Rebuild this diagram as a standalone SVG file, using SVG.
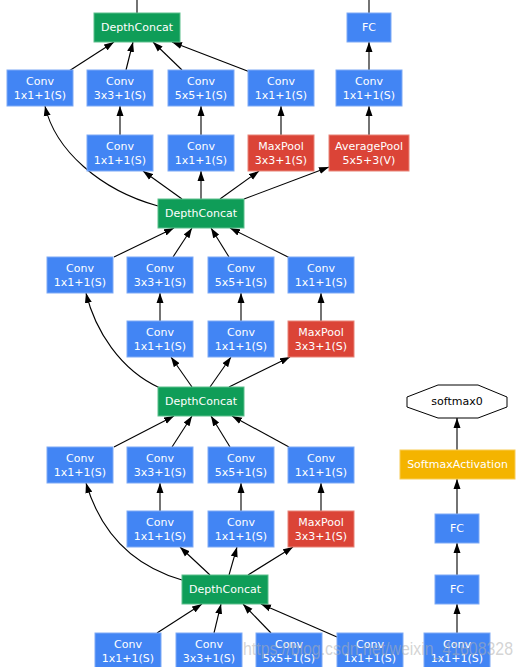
<svg xmlns="http://www.w3.org/2000/svg" width="523" height="667" viewBox="0 0 523 667">
<defs>
<marker id="ah" markerWidth="10" markerHeight="8" refX="10" refY="4" orient="auto" markerUnits="userSpaceOnUse">
<path d="M0,0.5 L10,4 L0,7.5 z" fill="#000"/>
</marker>
<style>
.b{fill:#4285f4;stroke:#7eaaf6;stroke-width:1}
.g{fill:#0f9d58;stroke:#5cbf8c;stroke-width:1}
.r{fill:#db4437;stroke:#e88479;stroke-width:1}
.y{fill:#f4b400;stroke:#f8cc55;stroke-width:1}
text{font-family:"DejaVu Sans",sans-serif;font-size:11px;text-anchor:middle;fill:#fff}
.k{fill:#000}
.e path{fill:none;stroke:#000;stroke-width:1.1}
.e .a{marker-end:url(#ah)}
.wm{font-family:"Liberation Sans",sans-serif;font-size:18px;fill:#b0b0b0;fill-opacity:0.55;text-anchor:start}
</style>
</defs>
<rect width="523" height="667" fill="#fff"/>
<g class="e" id="edges">
<path d="M137,13 L137,0"/>
<path d="M369,13 L369,0"/>
<path class="a" d="M69,71 L114,42"/>
<path class="a" d="M126,70 L133,42"/>
<path class="a" d="M182,70 L153,42"/>
<path class="a" d="M250,72 L172,42"/>
<path class="a" d="M120,135 L120,106"/>
<path class="a" d="M201,135 L201,106"/>
<path class="a" d="M281,135 L281,106"/>
<path class="a" d="M369,135 L369,106"/>
<path class="a" d="M369,70 L369,42"/>
<path class="a" d="M158,206 C100,190 55,150 45,106"/>
<path class="a" d="M182,199 L143,171"/>
<path class="a" d="M201,199 L201,171"/>
<path class="a" d="M220,199 L259,171"/>
<path class="a" d="M244,199 L329,167"/>
<path class="a" d="M114,257 L174,228"/>
<path class="a" d="M173,257 L192,228"/>
<path class="a" d="M229,257 L211,228"/>
<path class="a" d="M290,258 L230,228"/>
<path class="a" d="M160,321 L160,293"/>
<path class="a" d="M241,321 L241,293"/>
<path class="a" d="M321,321 L321,293"/>
<path class="a" d="M160,388 C120,370 95,330 86,293"/>
<path class="a" d="M192,387 L171,357"/>
<path class="a" d="M210,387 L231,357"/>
<path class="a" d="M229,387 L290,357"/>
<path class="a" d="M114,447 L174,416"/>
<path class="a" d="M172,447 L192,416"/>
<path class="a" d="M230,447 L211,416"/>
<path class="a" d="M289,447 L232,416"/>
<path class="a" d="M160,511 L160,483"/>
<path class="a" d="M241,511 L241,483"/>
<path class="a" d="M321,511 L321,483"/>
<path class="a" d="M182,580 C130,565 100,530 86,483"/>
<path class="a" d="M210,575 L180,547"/>
<path class="a" d="M229,575 L237,547"/>
<path class="a" d="M248,575 L293,547"/>
<path class="a" d="M157,633 L202,604"/>
<path class="a" d="M214,633 L221,604"/>
<path class="a" d="M271,633 L243,604"/>
<path class="a" d="M337,637 L261,604"/>
<path class="a" d="M457,450 L457,418"/>
<path class="a" d="M457,514 L457,479"/>
<path class="a" d="M457,575 L457,543"/>
<path class="a" d="M457,633 L457,604"/>
</g>
<g id="dc1"><rect class="g" x="94" y="13" width="86" height="29"/><text x="137" y="31">DepthConcat</text></g>
<g id="fc_top"><rect class="b" x="347" y="13" width="44" height="29"/><text x="369" y="31">FC</text></g>
<g id="a1"><rect class="b" x="7" y="70" width="66" height="36"/><text x="40" y="85">Conv</text><text x="40" y="99">1x1+1(S)</text></g>
<g id="a2"><rect class="b" x="87" y="70" width="66" height="36"/><text x="120" y="85">Conv</text><text x="120" y="99">3x3+1(S)</text></g>
<g id="a3"><rect class="b" x="168" y="70" width="66" height="36"/><text x="201" y="85">Conv</text><text x="201" y="99">5x5+1(S)</text></g>
<g id="a4"><rect class="b" x="248" y="70" width="66" height="36"/><text x="281" y="85">Conv</text><text x="281" y="99">1x1+1(S)</text></g>
<g id="a5"><rect class="b" x="336" y="70" width="66" height="36"/><text x="369" y="85">Conv</text><text x="369" y="99">1x1+1(S)</text></g>
<g id="b2"><rect class="b" x="87" y="135" width="66" height="36"/><text x="120" y="150">Conv</text><text x="120" y="164">1x1+1(S)</text></g>
<g id="b3"><rect class="b" x="168" y="135" width="66" height="36"/><text x="201" y="150">Conv</text><text x="201" y="164">1x1+1(S)</text></g>
<g id="b4"><rect class="r" x="248" y="135" width="66" height="36"/><text x="281" y="150">MaxPool</text><text x="281" y="164">3x3+1(S)</text></g>
<g id="b5"><rect class="r" x="329" y="135" width="80" height="36"/><text x="369" y="150">AveragePool</text><text x="369" y="164">5x5+3(V)</text></g>
<g id="dc2"><rect class="g" x="158" y="199" width="86" height="29"/><text x="201" y="217">DepthConcat</text></g>
<g id="c1"><rect class="b" x="47" y="257" width="66" height="36"/><text x="80" y="272">Conv</text><text x="80" y="286">1x1+1(S)</text></g>
<g id="c2"><rect class="b" x="127" y="257" width="66" height="36"/><text x="160" y="272">Conv</text><text x="160" y="286">3x3+1(S)</text></g>
<g id="c3"><rect class="b" x="208" y="257" width="66" height="36"/><text x="241" y="272">Conv</text><text x="241" y="286">5x5+1(S)</text></g>
<g id="c4"><rect class="b" x="288" y="257" width="66" height="36"/><text x="321" y="272">Conv</text><text x="321" y="286">1x1+1(S)</text></g>
<g id="d2"><rect class="b" x="127" y="321" width="66" height="36"/><text x="160" y="336">Conv</text><text x="160" y="350">1x1+1(S)</text></g>
<g id="d3"><rect class="b" x="208" y="321" width="66" height="36"/><text x="241" y="336">Conv</text><text x="241" y="350">1x1+1(S)</text></g>
<g id="d4"><rect class="r" x="288" y="321" width="66" height="36"/><text x="321" y="336">MaxPool</text><text x="321" y="350">3x3+1(S)</text></g>
<g id="dc3"><rect class="g" x="158" y="387" width="86" height="29"/><text x="201" y="405">DepthConcat</text></g>
<g id="e1"><rect class="b" x="47" y="447" width="66" height="36"/><text x="80" y="462">Conv</text><text x="80" y="476">1x1+1(S)</text></g>
<g id="e2"><rect class="b" x="127" y="447" width="66" height="36"/><text x="160" y="462">Conv</text><text x="160" y="476">3x3+1(S)</text></g>
<g id="e3"><rect class="b" x="208" y="447" width="66" height="36"/><text x="241" y="462">Conv</text><text x="241" y="476">5x5+1(S)</text></g>
<g id="e4"><rect class="b" x="288" y="447" width="66" height="36"/><text x="321" y="462">Conv</text><text x="321" y="476">1x1+1(S)</text></g>
<g id="f2"><rect class="b" x="127" y="511" width="66" height="36"/><text x="160" y="526">Conv</text><text x="160" y="540">1x1+1(S)</text></g>
<g id="f3"><rect class="b" x="208" y="511" width="66" height="36"/><text x="241" y="526">Conv</text><text x="241" y="540">1x1+1(S)</text></g>
<g id="f4"><rect class="r" x="288" y="511" width="66" height="36"/><text x="321" y="526">MaxPool</text><text x="321" y="540">3x3+1(S)</text></g>
<g id="dc4"><rect class="g" x="182" y="575" width="86" height="29"/><text x="225" y="593">DepthConcat</text></g>
<g id="g1"><rect class="b" x="95" y="633" width="66" height="36"/><text x="128" y="648">Conv</text><text x="128" y="662">1x1+1(S)</text></g>
<g id="g2"><rect class="b" x="176" y="633" width="66" height="36"/><text x="209" y="648">Conv</text><text x="209" y="662">3x3+1(S)</text></g>
<g id="g3"><rect class="b" x="256" y="633" width="66" height="36"/><text x="289" y="648">Conv</text><text x="289" y="662">5x5+1(S)</text></g>
<g id="g4"><rect class="b" x="337" y="633" width="66" height="36"/><text x="370" y="648">Conv</text><text x="370" y="662">1x1+1(S)</text></g>
<g id="softmax0"><polygon points="438,385 478,385 507,397 507,407 478,418 438,418 407,407 407,397" fill="#fff" stroke="#000" stroke-width="1"/><text class="k" x="457" y="405">softmax0</text></g>
<g id="softmaxact"><rect class="y" x="400" y="450" width="115" height="29"/><text x="457.5" y="468">SoftmaxActivation</text></g>
<g id="fc_r1"><rect class="b" x="435" y="514" width="44" height="29"/><text x="457" y="532">FC</text></g>
<g id="fc_r2"><rect class="b" x="435" y="575" width="44" height="29"/><text x="457" y="593">FC</text></g>
<g id="conv_r"><rect class="b" x="424" y="633" width="66" height="36"/><text x="457" y="648">Conv</text><text x="457" y="662">1x1+1(S)</text></g>
<text class="wm" x="243" y="655" textLength="270" lengthAdjust="spacingAndGlyphs">https://blog.csdn.net/weixin_41608328</text>
</svg>
